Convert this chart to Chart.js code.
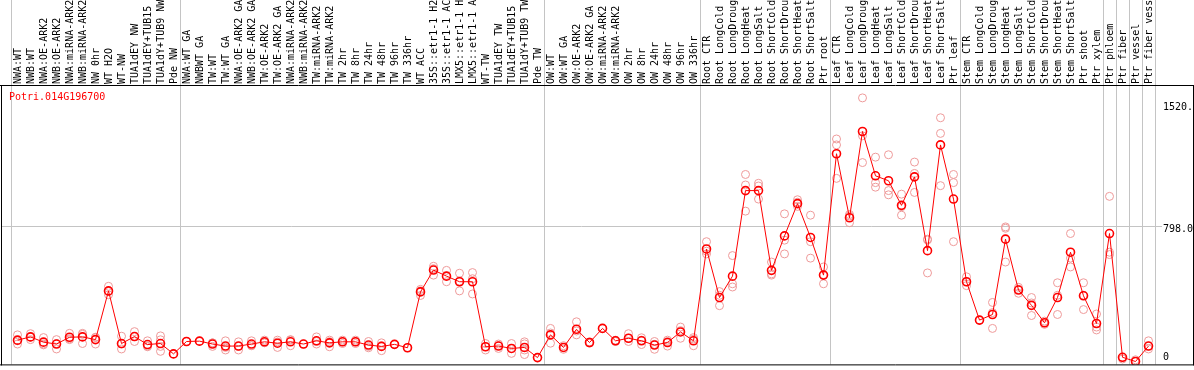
<!DOCTYPE html>
<html>
<head>
<meta charset="utf-8">
<script src="https://cdn.jsdelivr.net/npm/chart.js@4/dist/chart.umd.min.js"></script>
<style>
html,body{margin:0;padding:0;background:#fff;}
canvas{display:block;}
</style>
</head>
<body>
<canvas id="c" width="1194" height="370"></canvas>
<script>
const geneTitle = 'Potri.014G196700';

const categories = [
  'NWA:WT','NWB:WT','NWA:OE-ARK2','NWB:OE-ARK2','NWA:miRNA-ARK2','NWB:miRNA-ARK2','NW 0hr','WT H2O','WT-NW','TUA1dEY NW','TUA1dEY+TUB15 NW','TUA1dY+TUB9 NW','Pde NW',
  'NWA:WT GA','NWBWT GA','TW:WT','TW:WT GA','NWA:OE-ARK2 GA','NWB:OE-ARK2 GA','TW:OE-ARK2','TW:OE-ARK2 GA','NWA:miRNA-ARK2 GA','NWB:miRNA-ARK2 GA','TW:miRNA-ARK2','TW:miRNA-ARK2 GA','TW 2hr','TW 8hr','TW 24hr','TW 48hr','TW 96hr','TW 336hr','WT ACC','35S::etr1-1 H2O','35S::etr1-1 ACC','LMX5::etr1-1 H2O','LMX5::etr1-1 ACC','WT-TW','TUA1dEY TW','TUA1dEY+TUB15 TW','TUA1dY+TUB9 TW','Pde TW',
  'OW:WT','OW:WT GA','OW:OE-ARK2','OW:OE-ARK2 GA','OW:miRNA-ARK2','OW:miRNA-ARK2 GA','OW 2hr','OW 8hr','OW 24hr','OW 48hr','OW 96hr','OW 336hr',
  'Root CTR','Root LongCold','Root LongDrought','Root LongHeat','Root LongSalt','Root ShortCold','Root ShortDrought','Root ShortHeat','Root ShortSalt','Ptr root',
  'Leaf CTR','Leaf LongCold','Leaf LongDrought','Leaf LongHeat','Leaf LongSalt','Leaf ShortCold','Leaf ShortDrought','Leaf ShortHeat','Leaf ShortSalt','Ptr leaf',
  'Stem CTR','Stem LongCold','Stem LongDrought','Stem LongHeat','Stem LongSalt','Stem ShortCold','Stem ShortDrought','Stem ShortHeat','Stem ShortSalt','Ptr shoot','Ptr xylem',
  'Ptr phloem','Ptr fiber','Ptr vessel','Ptr fiber vessel'
];

// indices of category boundaries where group separators are drawn
const groupBreaks = [0, 13, 41, 53, 63, 73, 84, 85, 86, 87, 88];

const means = [
  126,145,114,103,143,145,129,416,106,147,100,106,45,
  118,120,103,91,91,103,116,108,116,103,122,110,116,116,97,89,101,81,410,539,503,470,470,87,91,77,83,23,
  157,83,190,112,195,122,137,122,97,112,174,122,
  663,377,503,1007,1007,537,740,930,731,509,
  1224,847,1355,1094,1065,920,1088,653,1276,957,
  470,244,277,721,421,331,228,377,644,387,224,
  754,25,0,91
];

const replicates = [
  [157,122,103],[164,143,129],[141,103,98],[129,106,74],[166,134,129],[166,160,106],[143,141,103],[443,412,393],[149,103,74],[176,147,118],[122,91,87],[151,128,89,60],[45],
  [118],[120],[110,110,89],[122,83,68],[116,89,68],[122,94,93],[126,112,110],[126,115,83],[129,126,93],[103],[145,118,103],[126,117,87],[126,116,106],[126,116,106],[118,89,81],[110,93,64],[101],[81],[425,416,389],[561,547,509],[537,503,470],[520,474,416],[524,488,398],[106,87,68],[103,93,77],[106,77,48],[116,104,68,41],[23],
  [195,168,108],[93,83,72],[234,180,157],[116,108],[195],[126,118],[164,137,118],[140,126,100],[118,101,72],[126,118,91],[203,182,137],[141,132,93],
  [706,650,634],[412,390,329],[624,458,439],[1102,1040,886],[1050,1034,957],[586,516,509],[870,715,634],[953,938,914],[862,706,609],[557,512,458],
  [1311,1276,1079],[866,857,818],[1553,1330,1172],[1204,1054,1027],[1218,1007,982],[986,912,862],[1175,1108,996],[721,716,522],[1436,1344,1036],[1102,1054,706],
  [499,470,447],[244],[348,288,195],[793,785,586],[437,425,402],[377,345,271],[238,228,219],[464,390,277],[754,609,557],[464,391,306],[280,203,186],
  [973,644,630],[25,15],[10,0],[122,91,74]
];

const yTickValues = [0, 798, 1520];
const yTickLabels = ['0', '798.0', '1520.0'];
const gridValue = 798;

const repPoints = [];
replicates.forEach((arr, i) => arr.forEach(v => repPoints.push({x: categories[i], y: v})));

const FONT = '10px "DejaVu Sans Mono", "Liberation Mono", monospace';

const efpPlugin = {
  id: 'efpDecor',
  beforeDatasetsDraw(chart) {
    const {ctx, chartArea: a, scales: {x, y}} = chart;
    const step = x.getPixelForValue(1) - x.getPixelForValue(0);
    ctx.save();
    ctx.strokeStyle = '#c4c4c4';
    ctx.lineWidth = 1;
    const gy = Math.round(y.getPixelForValue(gridValue)) + 0.5;
    ctx.beginPath();
    ctx.moveTo(1, gy); ctx.lineTo(1162, gy);
    ctx.stroke();
    groupBreaks.forEach(i => {
      const px = Math.round(x.getPixelForValue(i) - step / 2) + 0.5;
      ctx.beginPath();
      ctx.moveTo(px, 0); ctx.lineTo(px, a.bottom);
      ctx.stroke();
    });
    ctx.restore();
  },
  afterDraw(chart) {
    const {ctx, chartArea: a, scales: {x, y}} = chart;
    const W = chart.width;
    ctx.save();
    // frame
    ctx.strokeStyle = '#000';
    ctx.lineWidth = 1;
    ctx.beginPath();
    ctx.moveTo(0, a.top + 0.5); ctx.lineTo(W, a.top + 0.5);
    ctx.moveTo(0, a.bottom + 0.5); ctx.lineTo(W, a.bottom + 0.5);
    ctx.moveTo(1.5, a.top); ctx.lineTo(1.5, a.bottom + 1);
    ctx.moveTo(W - 0.5, a.top); ctx.lineTo(W - 0.5, a.bottom + 1);
    ctx.stroke();

    ctx.font = FONT;
    // category labels (rotated, reading upward)
    ctx.fillStyle = '#000';
    ctx.textAlign = 'left';
    ctx.textBaseline = 'middle';
    categories.forEach((lab, i) => {
      const px = x.getPixelForValue(i);
      ctx.save();
      ctx.translate(px + 0.5, a.top - 1);
      ctx.rotate(-Math.PI / 2);
      ctx.fillText(lab, 0, 0);
      ctx.restore();
    });

    // title
    ctx.fillStyle = '#ff0000';
    ctx.fillText(geneTitle, 9, a.top + 12);

    // y tick labels on the right
    ctx.save();
    ctx.beginPath();
    ctx.rect(0, a.top + 1, W - 1, a.bottom - a.top - 1);
    ctx.clip();
    ctx.fillStyle = '#000';
    yTickValues.forEach((v, k) => {
      const py = Math.min(y.getPixelForValue(v) + 3.5, a.bottom - 7);
      ctx.fillText(yTickLabels[k], 1163, py);
    });
    ctx.restore();
    ctx.restore();
  }
};

new Chart(document.getElementById('c'), {
  type: 'line',
  data: {
    labels: categories,
    datasets: [
      {
        label: 'replicates',
        data: repPoints,
        showLine: false,
        pointRadius: 4,
        pointBorderWidth: 1,
        pointBorderColor: '#ee9a9a',
        pointBackgroundColor: 'rgba(0,0,0,0)',
        order: 2
      },
      {
        label: 'mean',
        data: means,
        borderColor: '#ff0000',
        borderWidth: 1,
        tension: 0,
        pointRadius: 4,
        pointBorderWidth: 1.6,
        pointBorderColor: '#ff0000',
        pointBackgroundColor: 'rgba(0,0,0,0)',
        order: 1
      }
    ]
  },
  options: {
    responsive: false,
    animation: false,
    devicePixelRatio: 1,
    events: [],
    layout: { padding: { left: 11, right: 39, top: 85, bottom: 1 } },
    plugins: { legend: { display: false }, tooltip: { enabled: false }, title: { display: false } },
    scales: {
      x: { type: 'category', offset: true, display: false },
      y: { type: 'linear', min: -17, max: 1629, display: false }
    }
  },
  plugins: [efpPlugin]
});
</script>
</body>
</html>
